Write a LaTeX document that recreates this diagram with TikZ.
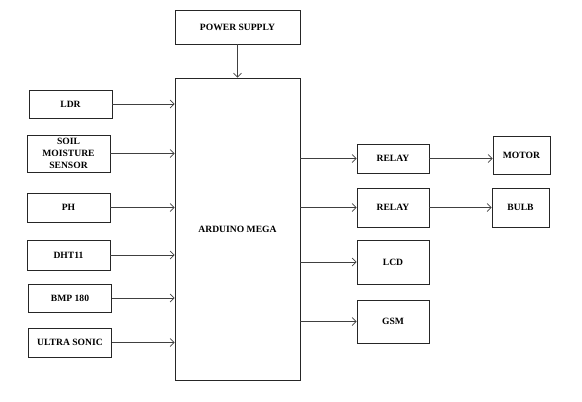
\documentclass[tikz,border=0pt]{standalone}
\usepackage{fontspec}
\setmainfont{Liberation Serif}
\usetikzlibrary{arrows.meta}
\begin{document}
\begin{tikzpicture}[x=1pt, y=-1pt,
    block/.style={draw=black!85, line width=0.8pt, align=center, inner sep=0pt,
        font=\bfseries\fontsize{9.6}{12.2}\selectfont},
    conn/.style={draw=black!75, line width=0.7pt, -{Straight Barb[length=4pt, width=8pt]}}]
    \useasboundingbox (0,0) rectangle (582,402);

    % controller and supply
    \node[block, minimum width=125pt, minimum height=34pt] (power) at (237.5,27) {POWER SUPPLY};
    \node[block, minimum width=125pt, minimum height=302pt] (mega) at (237.5,229) {ARDUINO MEGA};
    \draw[conn] (power) -- (mega);

    % sensors
    \node[block, minimum width=83pt, minimum height=28pt] (ldr) at (70.5,104) {LDR};
    \node[block, minimum width=83pt, minimum height=37pt] (soil) at (68.5,153.5) {SOIL\\MOISTURE\\SENSOR};
    \node[block, minimum width=83pt, minimum height=29pt] (ph) at (68.5,207.5) {PH};
    \node[block, minimum width=83pt, minimum height=30pt] (dht) at (68.5,255) {DHT11};
    \node[block, minimum width=83pt, minimum height=28pt] (bmp) at (70,298) {BMP 180};
    \node[block, minimum width=83pt, minimum height=29pt] (sonic) at (70,342.5) {ULTRA SONIC};

    \foreach \s in {ldr, soil, ph, dht, bmp, sonic}
        \draw[conn] (\s.east) -- (\s.east -| mega.west);

    % outputs
    \node[block, minimum width=72pt, minimum height=29pt] (relayA) at (393,158.5) {RELAY};
    \node[block, minimum width=72pt, minimum height=39pt] (relayB) at (393,207.5) {RELAY};
    \node[block, minimum width=72pt, minimum height=44pt] (lcd) at (393,262) {LCD};
    \node[block, minimum width=72pt, minimum height=43pt] (gsm) at (393,321.5) {GSM};
    \node[block, minimum width=57pt, minimum height=38pt] (motor) at (521.5,155) {MOTOR};
    \node[block, minimum width=57pt, minimum height=39pt] (bulb) at (520.5,207.5) {BULB};

    \foreach \o in {relayA, relayB, lcd, gsm}
        \draw[conn] (\o.west -| mega.east) -- (\o.west);
    \draw[conn] (relayA.east) -- (relayA.east -| motor.west);
    \draw[conn] (relayB.east) -- (bulb.west);
\end{tikzpicture}
\end{document}
